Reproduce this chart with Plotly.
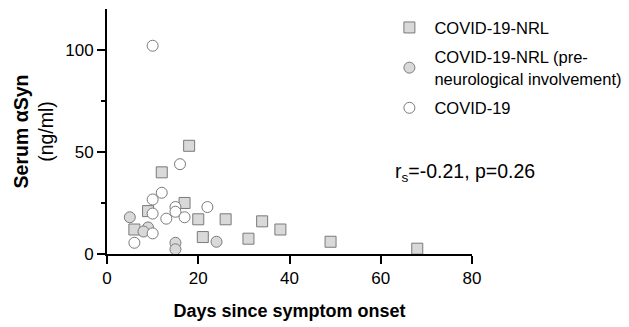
import plotly.graph_objects as go

# Data
nrl_days = [18, 12, 17, 9, 20, 6, 21, 26, 34, 38, 31, 49, 68]
nrl_asyn = [53, 40, 25, 21, 17, 12, 8.3, 17, 16, 12, 7.5, 6, 2.6]

pre_days = [5, 9, 8, 15, 15, 24]
pre_asyn = [18, 13, 11, 5.5, 2.3, 6]

covid_days = [10, 16, 12, 10, 22, 15, 15, 10, 13, 17, 10, 6]
covid_asyn = [102, 44, 30, 26.7, 23, 23, 20.7, 19.8, 17.3, 18, 10.1, 5.5]

x_ticks = [0, 20, 40, 60, 80]
y_ticks = [0, 50, 100]

FONT = "Liberation Sans, Arial, sans-serif"
EDGE = "#7a7a7a"
FILL = "#d9d9d9"

fig = go.Figure()
fig.add_trace(go.Scatter(
    x=nrl_days, y=nrl_asyn, mode="markers", name="COVID-19-NRL", legendgroup="a",
    marker=dict(symbol="square", size=11, color=FILL, line=dict(color=EDGE, width=1))))
fig.add_trace(go.Scatter(
    x=pre_days, y=pre_asyn, mode="markers",
    name="COVID-19-NRL (pre-<br>neurological involvement)", legendgroup="b",
    marker=dict(symbol="circle", size=11, color=FILL, line=dict(color=EDGE, width=1))))
fig.add_trace(go.Scatter(
    x=covid_days, y=covid_asyn, mode="markers", name="COVID-19", legendgroup="c",
    marker=dict(symbol="circle", size=11, color="white", line=dict(color=EDGE, width=1))))

fig.update_layout(
    width=629, height=327,
    margin=dict(l=107, r=157, t=9, b=73, autoexpand=False),
    paper_bgcolor="white", plot_bgcolor="white",
    font=dict(family=FONT, size=16, color="black"),
    showlegend=True,
    legend=dict(x=0.76, y=0.995, xanchor="left", yanchor="top",
                font=dict(family=FONT, size=16.5), itemwidth=40, tracegroupgap=5,
                bgcolor="rgba(0,0,0,0)"),
    xaxis=dict(range=[0, 80], tickvals=x_ticks, ticktext=[str(v) for v in x_ticks],
               showgrid=False, zeroline=False, showline=True, linecolor="black", linewidth=2,
               ticks="outside", ticklen=8, tickwidth=2, tickcolor="black",
               tickfont=dict(family=FONT, size=17),
               title=dict(text="<b>Days since symptom onset</b>", standoff=17,
                          font=dict(family=FONT, size=18))),
    yaxis=dict(range=[0, 120], tickvals=y_ticks, ticktext=[str(v) for v in y_ticks],
               showgrid=False, zeroline=False, showline=True, linecolor="black", linewidth=2,
               ticks="outside", ticklen=8, tickwidth=2, tickcolor="black",
               tickfont=dict(family=FONT, size=17),
               minor=dict(dtick=25, ticks="outside", ticklen=4, tickwidth=2, tickcolor="black", showgrid=False),
               title=dict(text="<b>Serum αSyn</b><br>(ng/ml)", standoff=6,
                          font=dict(family=FONT, size=19.5))),
)

fig.add_annotation(text="r<sub>s</sub>=-0.21, p=0.26", xref="paper", yref="paper",
                   x=(393 - 107) / 365, y=(254 - 172) / 245, xanchor="left", yanchor="middle",
                   showarrow=False, font=dict(family=FONT, size=19.5))

fig.write_html("out.html")
